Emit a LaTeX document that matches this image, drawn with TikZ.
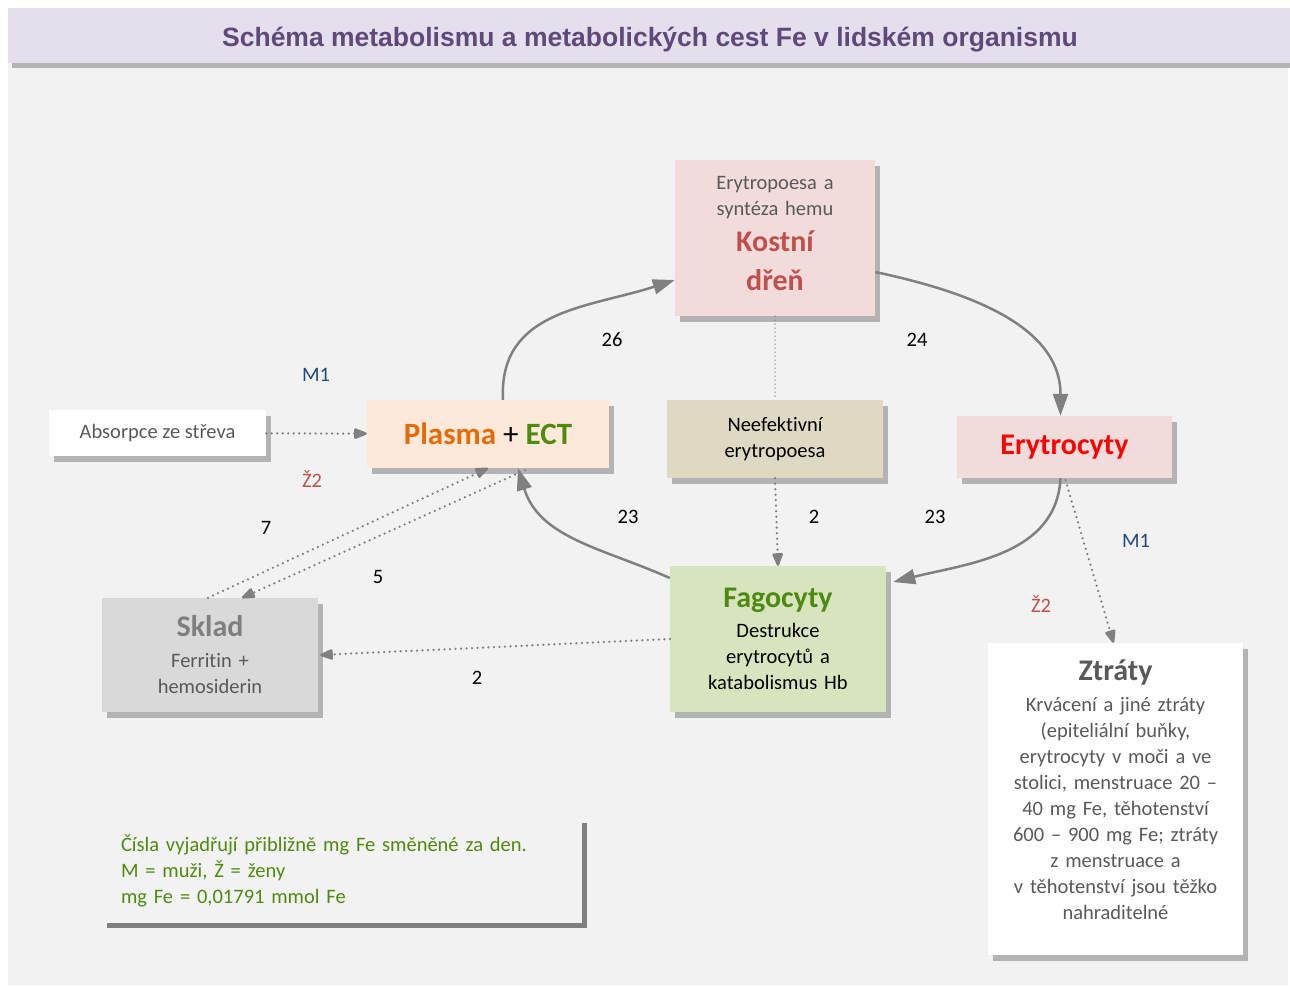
\documentclass[tikz,border=0pt]{standalone}
\usepackage{fontspec}
\setmainfont[Ligatures=NoCommon]{Carlito}
\newfontfamily\titlefont{Liberation Sans}
\usetikzlibrary{arrows.meta,shadows,positioning}
\definecolor{bg}{HTML}{F2F2F2}
\definecolor{titleband}{HTML}{E4DFEC}
\definecolor{titletext}{HTML}{5F497A}
\definecolor{bargray}{HTML}{B4B4B4}
\definecolor{shadowgray}{HTML}{B3B3B3}
\definecolor{legendshadow}{HTML}{7F7F7F}
\definecolor{arrowgray}{HTML}{808080}
\definecolor{subgray}{HTML}{595959}
\definecolor{kostnifill}{HTML}{F2DCDB}
\definecolor{kostnired}{HTML}{C0504D}
\definecolor{plasmafill}{HTML}{FDE9D9}
\definecolor{plasmaorange}{HTML}{E36C09}
\definecolor{ectgreen}{HTML}{4F8A10}
\definecolor{neeffill}{HTML}{DDD9C3}
\definecolor{erytred}{HTML}{FF0000}
\definecolor{fagofill}{HTML}{D7E4BD}
\definecolor{skladfill}{HTML}{D9D9D9}
\definecolor{skladgray}{HTML}{7F7F7F}
\definecolor{menblue}{HTML}{1F497D}
\definecolor{womenred}{HTML}{C0504D}
\newcommand{\bigbf}{\fontsize{30}{36}\selectfont\bfseries}
\tikzstyle{box} = [rectangle, inner sep=0pt, drop shadow={shadow xshift=5pt, shadow yshift=-6pt, fill=shadowgray, opacity=1}]
\tikzstyle{line} = [draw, arrowgray, line width=2.5pt, -{Triangle[length=22pt,width=15pt]}]
\tikzstyle{dotline} = [draw, arrowgray, line width=2.5pt, line cap=round, dash pattern=on 0pt off 5.5pt, -{Triangle[length=15pt,width=11pt,round=false]}]
\tikzstyle{num} = [inner sep=0pt]

\begin{document}
\begin{tikzpicture}[x=1pt, y=1pt, every node/.style={font=\fontsize{20.5}{26}\selectfont}]
    % background and title
    \useasboundingbox (0,0) rectangle (1290,-985);
    \fill[white] (0,0) rectangle (1290,-985);
    \fill[bg] (8,-8) rectangle (1288,-985);
    \fill[titleband] (8,-8) rectangle (1290,-63);
    \fill[bargray] (12,-63) rectangle (1290,-68);
    \node[font=\titlefont\fontsize{26.5}{30}\selectfont\bfseries, text=titletext] (title) at (650,-40) {Schéma metabolismu a metabolických cest Fe v lidském organismu};

    % boxes
    \node[box, fill=kostnifill, text=subgray, minimum width=200pt, minimum height=156pt, text width=190pt, align=center] (kostni) at (775,-238) {\lineskiplimit=-50pt\relax Erytropoesa a\\syntéza hemu\\[10pt]{\bigbf\color{kostnired}Kostní}\\[13pt]{\bigbf\color{kostnired}dřeň}\\[-16pt]\mbox{}};
    \node[box, fill=plasmafill, minimum width=242pt, minimum height=68pt] (plasma) at (488,-434) {\fontsize{31}{36}\selectfont\textcolor{plasmaorange}{\bfseries Plasma} + \textcolor{ectgreen}{\bfseries ECT}};
    \node[box, fill=white, text=subgray, minimum width=217pt, minimum height=46pt] (absorpce) at (157.5,-433) {Absorpce ze střeva};
    \node[box, fill=neeffill, minimum width=216pt, minimum height=78pt, text width=200pt, align=center] (neef) at (775,-439) {Neefektivní\\erytropoesa};
    \node[box, fill=kostnifill, text=erytred, minimum width=215pt, minimum height=62pt, font=\bigbf] (eryt) at (1064.5,-447) {Erytrocyty};
    \node[box, fill=fagofill, minimum width=216pt, minimum height=146pt, text width=206pt, align=center] (fago) at (778,-639) {\lineskiplimit=-50pt\relax{\bigbf\color{ectgreen}Fagocyty}\\[4pt]Destrukce\\erytrocytů a\\katabolismus Hb};
    \node[box, fill=skladfill, text=subgray, minimum width=216pt, minimum height=114pt, text width=206pt, align=center] (sklad) at (210,-655) {\lineskiplimit=-50pt\relax{\bigbf\color{skladgray}Sklad}\\[5pt]Ferritin +\\hemosiderin};
    \node[box, fill=white, minimum width=255pt, minimum height=312pt] (ztraty) at (1115.5,-799) {};
    \node[text=subgray, text width=245pt, align=center, inner sep=0pt] (ztratytext) at (1115.5,-790) {\lineskiplimit=-50pt\relax{\bigbf Ztráty}\\[5pt]Krvácení a jiné ztráty\\(epiteliální buňky,\\erytrocyty v moči a ve\\stolici, menstruace 20 –\\40 mg Fe, těhotenství\\600 – 900 mg Fe; ztráty\\z menstruace a\\v těhotenství jsou těžko\\nahraditelné};
    \node[rectangle, fill=bg, drop shadow={shadow xshift=5pt, shadow yshift=-5pt, fill=legendshadow, opacity=1}, minimum width=480pt, minimum height=105pt, text width=442pt, align=left, inner sep=0pt, text=ectgreen] (legend) at (342,-870.5) {Čísla vyjadřují přibližně mg Fe směněné za den.\\M = muži, Ž = ženy\\mg Fe = 0,01791 mmol Fe};

    % flow labels
    \node[num] (n26) at (612,-340) {26};
    \node[num] (n24) at (917,-340) {24};
    \node[num, text=menblue] (m1a) at (316,-375) {M1};
    \node[num, text=womenred] (z2a) at (312,-479) {Ž2};
    \node[num] (n7) at (266,-528) {7};
    \node[num] (n5) at (378,-577) {5};
    \node[num] (n23a) at (628,-517) {23};
    \node[num] (n2a) at (814,-517) {2};
    \node[num] (n23b) at (935,-517) {23};
    \node[num, text=menblue] (m1b) at (1136,-541) {M1};
    \node[num, text=womenred] (z2b) at (1041,-604) {Ž2};
    \node[num] (n2b) at (477,-678) {2};

    % solid cycle
    \path[line] ([xshift=15pt]plasma.north) to[out=93,in=198,looseness=1.1] ([yshift=-42pt]kostni.west);
    \path[line] ([yshift=-34pt]kostni.east) to[out=-12,in=90] ([xshift=-4pt]eryt.north);
    \path[line] ([xshift=-4pt]eryt.south) to[out=-93,in=14] ([xshift=7pt,yshift=57pt]fago.east);
    \path[line] ([yshift=61pt]fago.west) to[out=156,in=-73] ([xshift=30pt]plasma.south);

    % dotted flows
    \path[dotline] (absorpce) -- (plasma);
    \draw[arrowgray, line width=1.5pt, line cap=round, dash pattern=on 0pt off 4pt] (kostni.south) -- (neef.north);
    \path[dotline] (neef.south) -- (fago.north);
    \path[dotline] ([xshift=-2pt]sklad.north) -- (plasma.south);
    \path[dotline] ([xshift=37pt,yshift=-2pt]plasma.south) -- ([xshift=32pt]sklad.north);
    \path[dotline] (fago.west) -- ([xshift=2pt]sklad.east);
    \path[dotline] ([xshift=1pt,yshift=-2pt]eryt.south) -- ([xshift=-2pt]ztraty.north);
\end{tikzpicture}
\end{document}
